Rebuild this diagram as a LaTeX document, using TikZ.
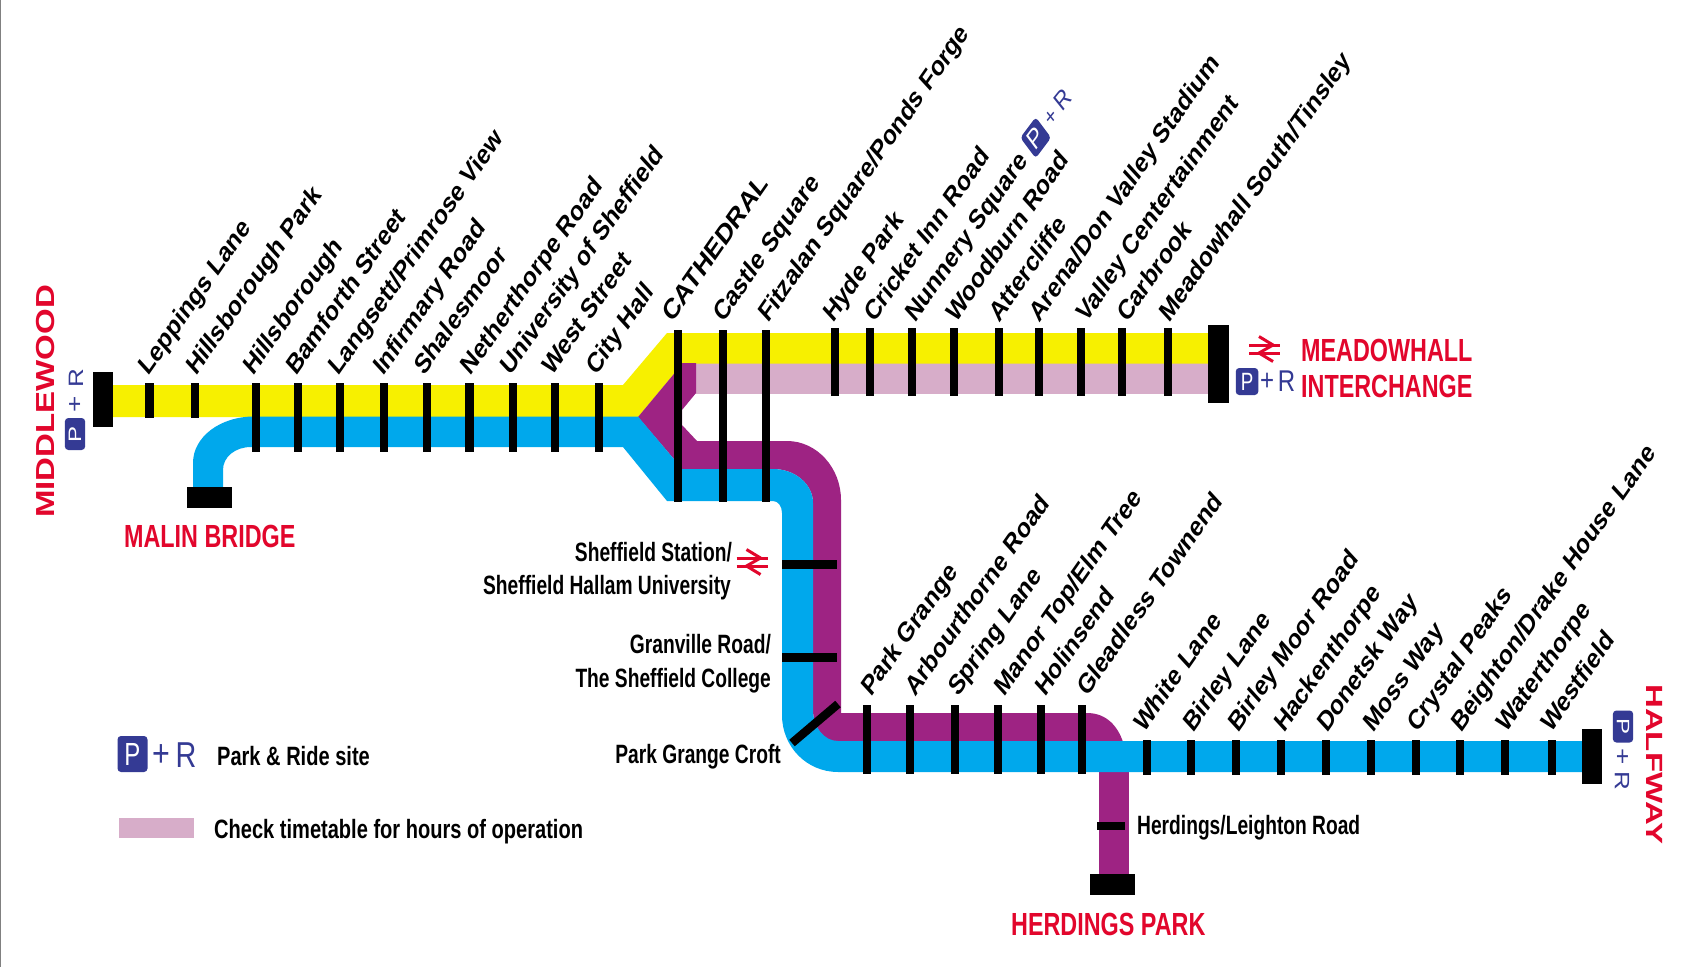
\documentclass[tikz,border=0pt]{standalone}
\usepackage{fontspec}
\setmainfont{Liberation Sans}
\definecolor{lyellow}{HTML}{F7F000}
\definecolor{lblue}{HTML}{00A8EC}
\definecolor{lpurple}{HTML}{9E2383}
\definecolor{lpink}{HTML}{D7ADC9}
\definecolor{lred}{HTML}{E2062C}
\definecolor{prblue}{HTML}{343A94}
\newcommand{\railsym}[2]{%
  \begin{scope}[shift={(#1,#2)},line width=3pt,draw=lred,line join=miter]
    \draw (-15.5,-4) -- (15.5,-4);
    \draw (-15.5,4) -- (15.5,4);
    \draw (-5.5,-12.5) -- (8.5,-4) -- (-5.5,4) -- (8.5,12.5);
  \end{scope}}
\tikzset{
  tick/.style={line width=8.5pt,black},
  term/.style={fill=black},
  stn/.style={transform shape,cm={.488,.7,-.56,.61,(0,0)},anchor=base west,inner sep=0pt,font=\bfseries\fontsize{30}{36}\selectfont},
  hlab/.style={transform shape,xscale=.725,inner sep=0pt,font=\bfseries\fontsize{26.5}{32}\selectfont},
  hwest/.style={hlab,anchor=base west},
  heast/.style={hlab,anchor=base east},
  legendlab/.style={transform shape,xscale=.757,inner sep=0pt,anchor=base west,font=\bfseries\fontsize{26.5}{32}\selectfont},
  title/.style={transform shape,xscale=.73,inner sep=0pt,text=lred,anchor=base west,font=\bfseries\fontsize{32}{38}\selectfont},
  prletter/.style={transform shape,inner sep=0pt,text=prblue,xscale=.8,font=\fontsize{#1}{#1}\selectfont},
  prbox/.style={transform shape,xscale=.75,fill=prblue,text=white,rounded corners=3.5pt,inner sep=0pt,font=\fontsize{#1}{#1}\selectfont}
}
\begin{document}
\begin{tikzpicture}[x=1pt,y=-1pt]
\useasboundingbox (0,0) rectangle (1692,967);
\fill[white] (0,0) rectangle (1692,967);
\draw[gray,line width=1.2pt] (0.6,0) -- (0.6,967);
% pink section
\fill[lpink] (690,363) rectangle (1208,393.5);
% yellow line
\fill[lyellow] (113,385) -- (623,385) -- (667,333) -- (1208,333) -- (1208,363.5) -- (682,363.5) -- (673,375) -- (638,417) -- (113,417) -- cycle;
% purple line
\fill[lpurple] (638,417) -- (673,375) -- (682,363) -- (696,363) -- (696,393) -- (682,410) -- (682,425) -- (697,441)
  -- (787,441) .. controls (817,441) and (841,468) .. (841,500) -- (841,713) -- (1087,713)
  .. controls (1107,713) and (1118,727) .. (1123,742) -- (838,742)
  .. controls (824,742) and (813,727) .. (813,710) -- (813,503)
  .. controls (813,484) and (795,469) .. (773,469) -- (682,469) -- (673,458) -- cycle;
\fill[lpurple] (1099,770) rectangle (1129,875);
% blue line
\fill[lblue] (193,488) -- (193,463) .. controls (193,437) and (220,416.5) .. (254,416.5) -- (638,416.5) -- (673,458) -- (682,469)
  -- (773,469) .. controls (795,469) and (813,484) .. (813,503) -- (813,710)
  .. controls (813,727) and (824,741) .. (838,741) -- (1582,741) -- (1582,772) -- (838,772)
  .. controls (807,772) and (782,747) .. (782,715) -- (782,513)
  .. controls (782,506) and (778,501) .. (773,501) -- (667,501) -- (623,447) -- (251,447)
  .. controls (235,447) and (223,457) .. (223,470) -- (223,488) -- cycle;
% station ticks
\foreach \x in {149.5,195} \draw[tick] (\x,383) -- (\x,418);
\foreach \x in {256,298,340,384,427,469.5,513,555,599} \draw[tick] (\x,383) -- (\x,452);
\foreach \x in {678,723,766} \draw[tick] (\x,330) -- (\x,502);
\foreach \x in {835,870,912,954,999,1039,1081,1122,1168} \draw[tick] (\x,328) -- (\x,396);
\foreach \x in {867,910,955,998,1041,1082} \draw[tick] (\x,705) -- (\x,774);
\foreach \x in {1147,1191,1236,1281,1326,1371,1416,1460,1505,1552} \draw[tick] (\x,740) -- (\x,775);
\draw[tick] (782,564.5) -- (837,564.5);
\draw[tick] (782,657.5) -- (837,657.5);
\draw[tick] (792,743) -- (838,704);
\draw[tick] (1097,826) -- (1125,826);
% terminals
\fill[term] (93,372) rectangle (113,427);
\fill[term] (187,487) rectangle (232,508);
\fill[term] (1208,325) rectangle (1229,403);
\fill[term] (1582,729) rectangle (1602,784);
\fill[term] (1090,874) rectangle (1135,895);
% station names
\foreach \x/\t [count=\i] in {148.5/Leppings Lane,196/Hillsborough Park,253/Hillsborough,296/Bamforth Street,338/Langsett\slash Primrose View,383/Infirmary Road,424/Shalesmoor,470.5/Netherthorpe Road,510/University of Sheffield,552/West Street,596/City Hall}
  \node[stn] (a\i) at (\x,377) {\t};
\node[stn,xscale=1.08] (b1) at (672,324) {CATHEDRAL};
\foreach \x/\t [count=\i from 2] in {723/Castle Square,768/Fitzalan Square\slash Ponds Forge,833/Hyde Park,874/Cricket Inn Road,915/Nunnery Square,956/Woodburn Road,999/Attercliffe,1039/Arena\slash Don Valley Stadium,1086/Valley Centertainment,1127/Carbrook,1169/Meadowhall South\slash Tinsley}
  \node[stn] (b\i) at (\x,324) {\t};
\foreach \x/\t [count=\i] in {871/Park Grange,915/Arbourthorne Road,958/Spring Lane,1004/Manor Top\slash Elm Tree,1045/Holinsend,1087/Gleadless Townend}
  \node[stn] (c\i) at (\x,698) {\t};
\foreach \x/\t [count=\i] in {1144/White Lane,1193/Birley Lane,1238/Birley Moor Road,1284/Hackenthorpe,1327/Donetsk Way,1373/Moss Way,1417/Crystal Peaks,1461/Beighton\slash Drake House Lane,1506/Waterthorpe,1551/Westfield}
  \node[stn] (d\i) at (\x,734) {\t};
% side labels
\node[heast] (s1) at (732,561) {Sheffield Station/};
\node[heast] (s2) at (731,594) {Sheffield Hallam University};
\node[heast] (s3) at (771,653) {Granville Road/};
\node[heast] (s4) at (771,687) {The Sheffield College};
\node[heast] (s5) at (781,763) {Park Grange Croft};
\node[hwest] (s6) at (1137,834) {Herdings/Leighton Road};
\node[legendlab] (s7) at (217,765) {Park \& Ride site};
\node[legendlab] (s8) at (214,838) {Check timetable for hours of operation};
% terminus names
\node[title] (t1) at (1301,361) {MEADOWHALL};
\node[title] (t2) at (1301,397) {INTERCHANGE};
\node[title] (t3) at (124,547) {MALIN BRIDGE};
\node[title] (t4) at (1011,935) {HERDINGS PARK};
\node[transform shape,xscale=.79,rotate=90,inner sep=0pt,text=lred,anchor=base west,font=\bfseries\fontsize{33}{38}\selectfont] (t5) at (54,518) {MIDDLEWOOD};
\node[transform shape,xscale=.71,rotate=-90,inner sep=0pt,text=lred,anchor=base west,font=\bfseries\fontsize{33}{38}\selectfont] (t6) at (1646,684) {HALFWAY};
% rail symbols
\railsym{1264.5}{349}
\railsym{752}{562}
% P+R signs
\node[prbox=25,minimum width=30pt,minimum height=27pt] (p1) at (1247,381.5) {P};
\node[prletter=30] (p1a) at (1267,382) {+};
\node[prletter=30] (p1b) at (1286.5,381) {R};
\node[prbox=32,minimum width=40pt,minimum height=36pt] (p2) at (132.5,754) {P};
\node[prletter=38] (p2a) at (161,756) {+};
\node[prletter=36] (p2b) at (186,755) {R};
\node[prbox=24,rotate=90,minimum width=32pt,minimum height=27pt] (p3) at (75,434) {P};
\node[prletter=28,rotate=90] (p3a) at (76,404) {+};
\node[prletter=26,rotate=90] (p3b) at (76,378) {R};
\node[prbox=24,rotate=-90,minimum width=32pt,minimum height=27pt] (p4) at (1623,726.5) {P};
\node[prletter=28,rotate=-90] (p4a) at (1622,757) {+};
\node[prletter=26,rotate=-90] (p4b) at (1622,781) {R};
\node[prbox=28,rotate=45,minimum size=29pt] (p5) at (1035.7,137.7) {P};
\node[prletter=24,rotate=45] (p5a) at (1052,118) {+};
\node[prletter=26,rotate=45] (p5b) at (1063,100) {R};
% legend swatch
\fill[lpink] (119,818) rectangle (194,838);
\end{tikzpicture}
\end{document}
